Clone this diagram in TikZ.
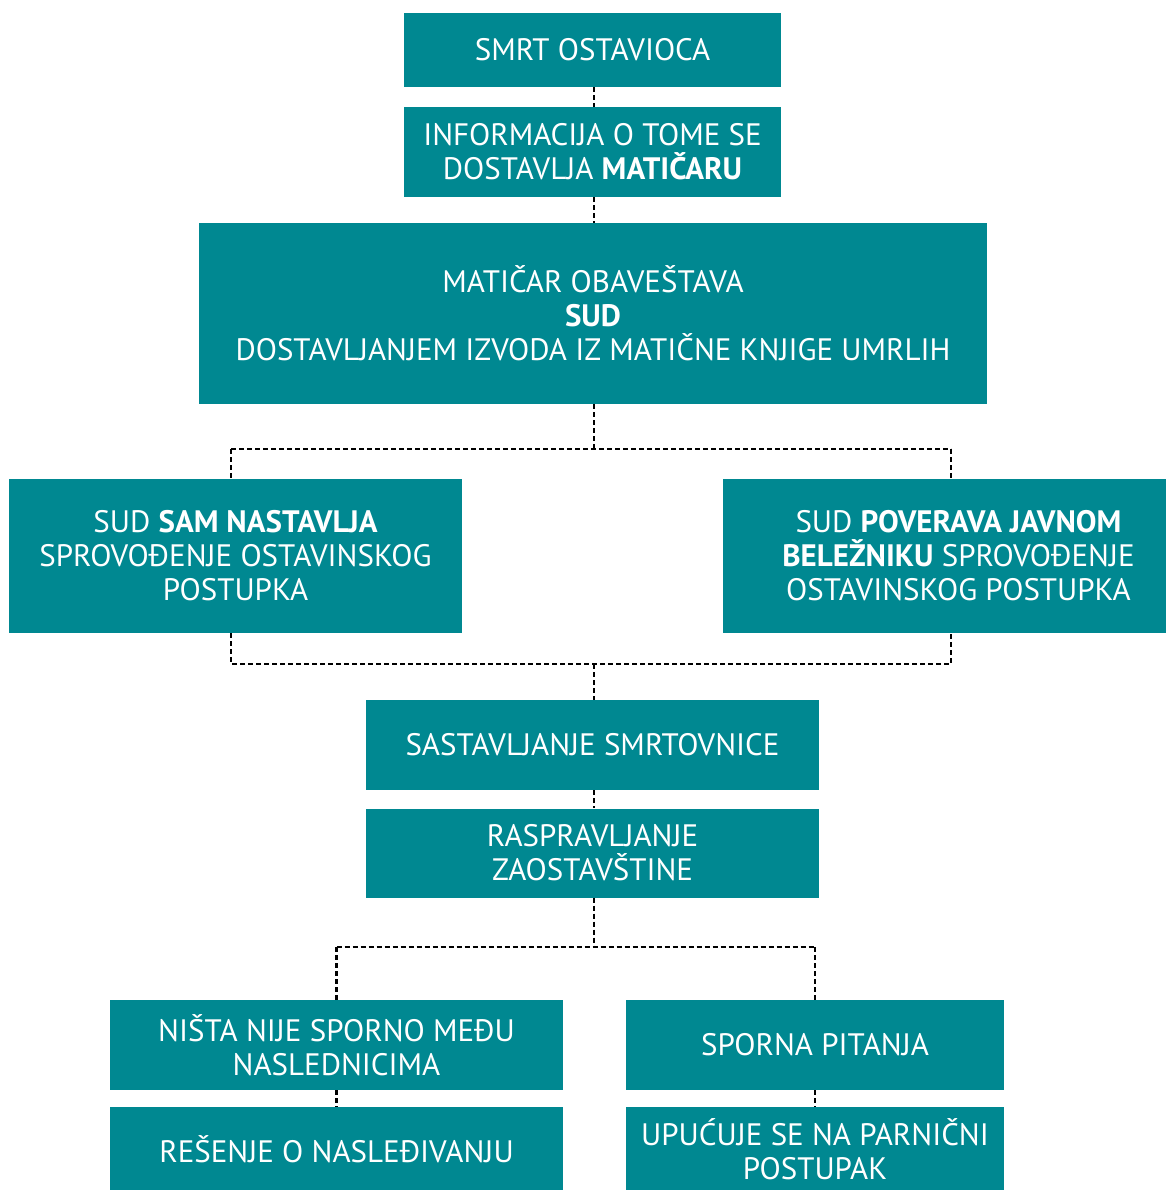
\documentclass[tikz,border=0pt]{standalone}
\usepackage{fontspec}
\setmainfont{PT Sans}
\usetikzlibrary{positioning,calc}
\definecolor{petrol}{RGB}{0,136,145}

\begin{document}
\begin{tikzpicture}
    [x=1pt,y=-1pt,
    font=\fontsize{31}{34}\selectfont,
    stage/.style={fill=petrol,text=white,align=center,inner sep=0pt},
    link/.style={draw,line width=2.2pt,dash pattern=on 5pt off 3pt}]

    \useasboundingbox (0,0) rectangle (1166,1190);

    \node[stage,minimum width=377,minimum height=74] (death) at (592.5,50) {SMRT OSTAVIOCA};
    \node[stage,minimum width=377,minimum height=90] (info) at (592.5,152)
    {INFORMACIJA O TOME SE\\DOSTAVLJA \textbf{MATIČARU}};
    \node[stage,minimum width=788,minimum height=181] (registrar) at (593,313.5)
    {MATIČAR OBAVEŠTAVA\\\textbf{SUD}\\DOSTAVLJANJEM IZVODA IZ MATIČNE KNJIGE UMRLIH};

    \node[stage,minimum width=453,minimum height=154] (court) at (235.5,556)
    {SUD \textbf{SAM NASTAVLJA}\\SPROVOĐENJE OSTAVINSKOG\\POSTUPKA};
    \node[stage,minimum width=443,minimum height=154] (notary) at (944.5,556)
    {\hspace*{28pt}SUD \textbf{POVERAVA JAVNOM}\\\hspace*{28pt}\textbf{BELEŽNIKU} SPROVOĐENJE\\\hspace*{28pt}OSTAVINSKOG POSTUPKA};

    \node[stage,minimum width=453,minimum height=90] (list) at (592.5,745) {SASTAVLJANJE SMRTOVNICE};
    \node[stage,minimum width=453,minimum height=89] (hearing) at (592.5,853)
    {RASPRAVLJANJE\\ZAOSTAVŠTINE};

    \node[stage,minimum width=453,minimum height=90] (agreed) at (336.5,1045)
    {NIŠTA NIJE SPORNO MEĐU\\NASLEDNICIMA};
    \node[stage,minimum width=378,minimum height=90] (disputed) at (815,1045) {SPORNA PITANJA};
    \node[stage,minimum width=453,minimum height=84] (ruling) at (336.5,1149)
    {REŠENJE O NASLEĐIVANJU};
    \node[stage,minimum width=378,minimum height=84] (lawsuit) at (815,1149)
    {UPUĆUJE SE NA PARNIČNI\\POSTUPAK};

    \coordinate (split) at (594,449);
    \coordinate (join) at (594,664);
    \coordinate (fork) at (594,947);

    \path[link] (death.south -| split) -- (info.north -| split);
    \path[link] (info.south -| split) -- (registrar.north -| split);
    \path[link] (registrar.south -| split) -- (split);
    \path[link] (231,449) -- (951,449);
    \path[link] (split -| 231,0) -- (court.north -| 231,0);
    \path[link] (split -| 951,0) -- (notary.north -| 951,0);
    \path[link] (court.south -| 231,0) -- (join -| 231,0) -- (join -| 951,0) -- (notary.south -| 951,0);
    \path[link] (join) -- (list.north -| join);
    \path[link] (list.south -| join) -- (hearing.north -| join);
    \path[link] (hearing.south -| fork) -- (fork);
    \path[link] (fork -| agreed) -- (agreed.north) ;
    \path[link] (fork -| disputed) -- (disputed.north);
    \path[link] (fork -| agreed) -- (fork -| disputed);
    \path[link] (agreed) -- (ruling);
    \path[link] (disputed) -- (lawsuit);
  \end{tikzpicture}
\end{document}
